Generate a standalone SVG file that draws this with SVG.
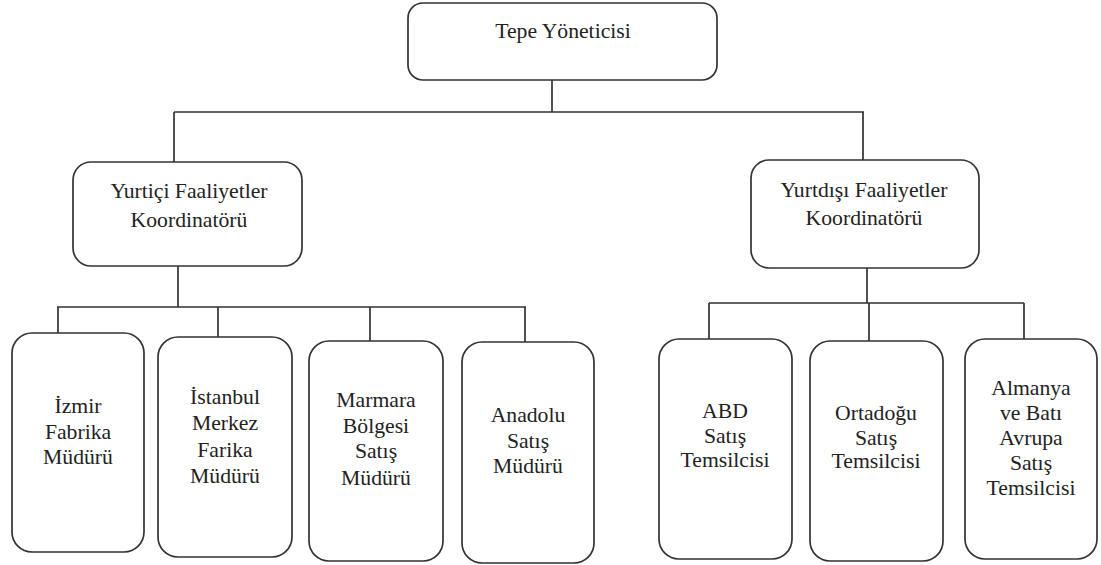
<svg xmlns="http://www.w3.org/2000/svg" width="1101" height="565" viewBox="0 0 1101 565">
  <defs>
    <style>
      .box { fill: #ffffff; stroke: #333333; stroke-width: 1.7; }
      .wire { fill: none; stroke: #333333; stroke-width: 1.7; }
    </style>
  </defs>
  <rect width="1101" height="565" fill="#ffffff"/>

  <!-- connectors -->
  <g id="connectors" class="wire">
    <path d="M552 80 V112 M174 112 H864 M174 112 V162 M863 112 V160"/>
    <path d="M178 266 V307 M57 307 H526 M58 307 V333 M218 307 V337 M370 307 V341 M525 307 V342"/>
    <path d="M867 268 V303 M709 303 H1024 M709 303 V339 M869 303 V341 M1024 303 V339"/>
  </g>

  <g font-family="Liberation Serif, serif" font-size="21.7" fill="#222222" text-anchor="middle">
    <!-- top level -->
    <g id="tepe-yonetici">
      <rect class="box" x="408" y="3" width="309" height="77" rx="15"/>
      <text x="563" y="38">Tepe Yöneticisi</text>
    </g>

    <!-- coordinators -->
    <g id="yurtici-koordinator">
      <rect class="box" x="73" y="162" width="229" height="104" rx="18"/>
      <text x="189" y="198">Yurtiçi Faaliyetler</text>
      <text x="189" y="227">Koordinatörü</text>
    </g>
    <g id="yurtdisi-koordinator">
      <rect class="box" x="751" y="160" width="228" height="108" rx="18"/>
      <text x="864" y="197">Yurtdışı Faaliyetler</text>
      <text x="864" y="225">Koordinatörü</text>
    </g>

    <!-- domestic units -->
    <g id="izmir-fabrika">
      <rect class="box" x="12" y="333" width="132" height="219" rx="20"/>
      <text x="78" y="413">İzmir</text>
      <text x="78" y="439">Fabrika</text>
      <text x="78" y="464">Müdürü</text>
    </g>
    <g id="istanbul-merkez">
      <rect class="box" x="158" y="337" width="134" height="220" rx="20"/>
      <text x="225" y="404">İstanbul</text>
      <text x="225" y="430">Merkez</text>
      <text x="225" y="457">Farika</text>
      <text x="225" y="483">Müdürü</text>
    </g>
    <g id="marmara-satis">
      <rect class="box" x="309" y="341" width="134" height="220" rx="20"/>
      <text x="376" y="407">Marmara</text>
      <text x="376" y="433">Bölgesi</text>
      <text x="376" y="458">Satış</text>
      <text x="376" y="485">Müdürü</text>
    </g>
    <g id="anadolu-satis">
      <rect class="box" x="462" y="342" width="132" height="221" rx="20"/>
      <text x="528" y="422">Anadolu</text>
      <text x="528" y="448">Satış</text>
      <text x="528" y="473">Müdürü</text>
    </g>

    <!-- foreign units -->
    <g id="abd-satis">
      <rect class="box" x="659" y="339" width="133" height="220" rx="20"/>
      <text x="725" y="418">ABD</text>
      <text x="725" y="443">Satış</text>
      <text x="725" y="467">Temsilcisi</text>
    </g>
    <g id="ortadogu-satis">
      <rect class="box" x="810" y="341" width="133" height="220" rx="20"/>
      <text x="876" y="420">Ortadoğu</text>
      <text x="876" y="445">Satış</text>
      <text x="876" y="468">Temsilcisi</text>
    </g>
    <g id="almanya-bati-avrupa-satis">
      <rect class="box" x="965" y="339" width="132" height="220" rx="20"/>
      <text x="1031" y="395">Almanya</text>
      <text x="1031" y="420">ve Batı</text>
      <text x="1031" y="445">Avrupa</text>
      <text x="1031" y="470">Satış</text>
      <text x="1031" y="495">Temsilcisi</text>
    </g>
  </g>
</svg>
